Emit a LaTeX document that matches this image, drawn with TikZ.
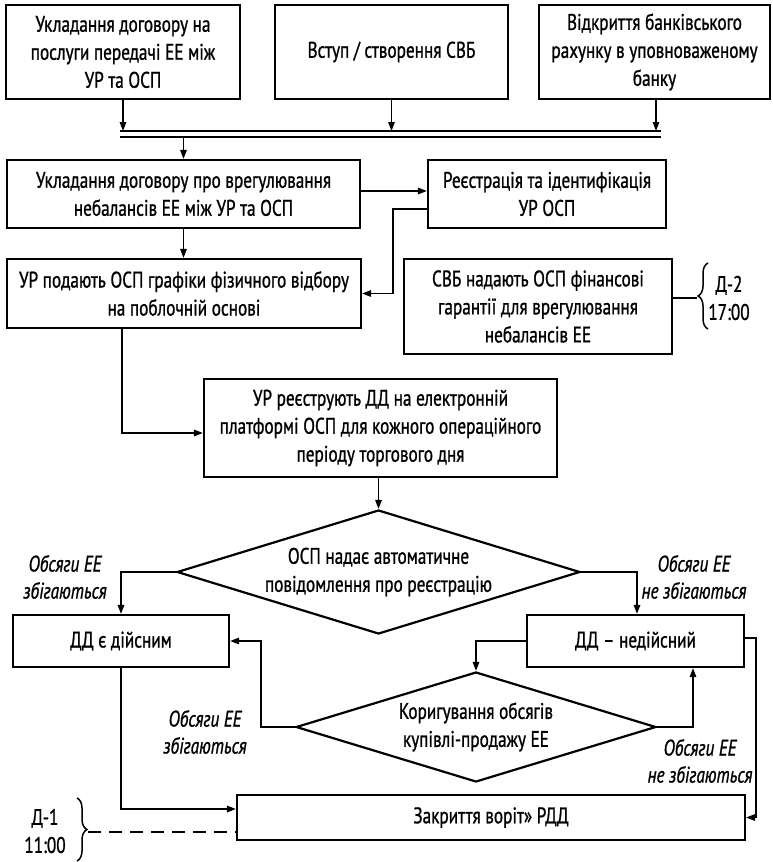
\documentclass[tikz,border=0pt]{standalone}
\usepackage{fontspec}
\setmainfont{PT Sans}[FakeStretch=0.765, FakeBold=1.0]
\usetikzlibrary{arrows.meta,shapes.geometric,decorations.pathreplacing}

\begin{document}
\begin{tikzpicture}[x=1pt,y=-1pt,
  font=\fontsize{22.5}{28}\selectfont,
  box/.style={draw, line width=2.2pt, align=center, inner sep=0pt},
  dec/.style={draw, diamond, line width=2.2pt, inner sep=0pt},
  txt/.style={align=center, inner sep=0pt},
  lbl/.style={align=center, inner sep=0pt, font=\fontsize{22.5}{27}\selectfont\itshape},
  conn/.style={line width=1.5pt},
  arr/.style={conn, -{Triangle[length=9pt,width=6.5pt]}},
  bar/.style={line width=1.4pt},
  brc/.style={line width=1.5pt, decorate, decoration={brace, amplitude=10pt}},
  brcm/.style={line width=1.5pt, decorate, decoration={brace, mirror, amplitude=10pt}}
]
\useasboundingbox (0,0) rectangle (772,862);

% top row
\node[box, minimum width=234, minimum height=94] (A) at (123,52)
  {Укладання договору на\\послуги передачі ЕЕ між\\УР та ОСП};
\node[box, minimum width=233, minimum height=94] (B) at (391.5,52)
  {Вступ / створення СВБ};
\node[box, minimum width=231, minimum height=94] (C) at (654.5,52)
  {Відкриття банківського\\рахунку в уповноваженому\\банку};

% collecting double bar
\coordinate (barTL) at (120,131);
\coordinate (barTR) at (661,131);
\coordinate (barBL) at (120,137);
\coordinate (barBR) at (661,137);
\draw[bar] (barTL) -- (barTR);
\draw[bar] (barBL) -- (barBR);

% second row
\node[box, minimum width=353, minimum height=68] (D) at (183.5,194)
  {Укладання договору про врегулювання\\небалансів ЕЕ між УР та ОСП};
\node[box, minimum width=238, minimum height=68] (E) at (547,194)
  {Реєстрація та ідентифікація\\УР ОСП};

% third row
\node[box, minimum width=354, minimum height=69] (F) at (184,293.5)
  {УР подають ОСП графіки фізичного відбору\\на поблочній основі};
\node[box, minimum width=268, minimum height=95] (G) at (538,306.5)
  {СВБ надають ОСП фінансові\\гарантії для врегулювання\\небалансів ЕЕ};

% registration of the dispatch schedules
\node[box, minimum width=353, minimum height=98] (H) at (380.5,428)
  {УР реєструють ДД на електронній\\платформі ОСП для кожного операційного\\періоду торгового дня};

% first decision
\node[dec, minimum width=403, minimum height=124] (d1) at (378.5,572) {};
\node[txt] (d1t) at (d1) {ОСП надає автоматичне\\повідомлення про реєстрацію};

\node[box, minimum width=216, minimum height=52] (I) at (121,641) {ДД є дійсним};
\node[box, minimum width=217, minimum height=52] (J) at (635.5,641) {ДД – недійсний};

% second decision
\node[dec, minimum width=360, minimum height=110] (d2) at (476,727) {};
\node[txt] (d2t) at (d2) {Коригування обсягів\\купівлі-продажу ЕЕ};

\node[box, minimum width=508, minimum height=45] (K) at (491,817.5) {Закриття воріт» РДД};

% branch labels
\node[lbl] (l1) at (65,577) {Обсяги ЕЕ\\збігаються};
\node[lbl] (l2) at (694,577) {Обсяги ЕЕ\\не збігаються};
\node[lbl] (l3) at (205,732) {Обсяги ЕЕ\\збігаються};
\node[lbl] (l4) at (700,761) {Обсяги ЕЕ\\не збігаються};

% deadlines
\node[txt] (t1) at (729,298) {Д-2\\17:00};
\node[txt] (t2) at (45,831) {Д-1\\11:00};
\coordinate (b1top) at (708,263);
\coordinate (b1bot) at (708,329);
\coordinate (b1tip) at (697,298);
\draw[brcm] (b1top) -- (b1bot);
\draw[conn] ([yshift=8.5]G.east) -- (b1tip);
\coordinate (b2top) at (77,798);
\coordinate (b2bot) at (77,861);
\coordinate (b2tip) at (88,832);
\draw[brc] (b2top) -- (b2bot);
\draw[conn, dash pattern=on 13pt off 8pt] (b2tip) -- ([yshift=-14.5]K.west);

% connectors
\draw[arr] (A.south) -- (A.south |- barTL);
\draw[arr] (B.south) -- (B.south |- barTL);
\draw[arr] ([xshift=1.5]C.south) -- ([xshift=1.5]C.south |- barTL);
\draw[arr] (D.north |- barBL) -- (D.north);
\draw[arr] ([yshift=3]D.east) -- ([yshift=3]D.east -| E.west);
\draw[arr] ([yshift=-15]E.west) -| ([xshift=31]F.east) -- (F.east);
\draw[arr] (D.south) -- (D.south |- F.north);
\draw[arr] ([xshift=-62]F.south) |- ([yshift=-5]H.west);
\draw[arr] (H.south -| d1.north) -- (d1.north);
\draw[arr] (d1.west) -| (I.north);
\draw[arr] (d1.east) -| ([xshift=1.5]J.north);
\draw[arr] (J.west) -| (d2.north);
\draw[arr] (d2.west) -| ([xshift=31]I.east) -- (I.east);
\draw[arr] (d2.east) -| ([xshift=57.5]J.south);
\draw[arr] ([yshift=3]J.east) -| ([xshift=10]K.east) -- (K.east);
\draw[arr] (I.south) |- ([yshift=8.5]K.west);
\end{tikzpicture}
\end{document}
